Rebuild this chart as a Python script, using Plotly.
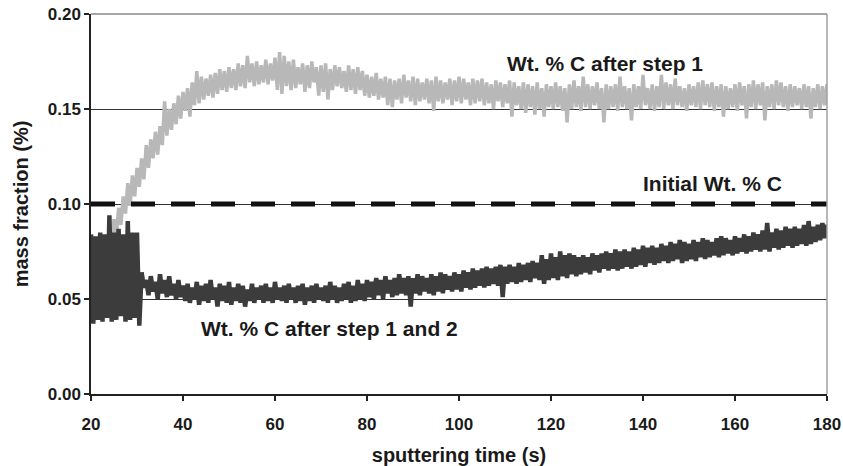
import numpy as np
import plotly.graph_objects as go

# sputtering time, one sample pair (high / low) per second
t_start = 20
t_end = 180

initial_c = 0.10

# Wt. % C after step 1 -- upper / lower edge of the noisy band, t = 20..180
step1_hi = [
    0.074, 0.077, 0.079, 0.081, 0.086, 0.092, 0.098, 0.104, 0.111, 0.115,
    0.119, 0.124, 0.131, 0.134, 0.138, 0.141, 0.154, 0.150, 0.153, 0.157,
    0.159, 0.161, 0.164, 0.170, 0.167, 0.166, 0.168, 0.169, 0.171, 0.170,
    0.172, 0.171, 0.174, 0.173, 0.178, 0.174, 0.175, 0.173, 0.176, 0.174,
    0.177, 0.180, 0.178, 0.175, 0.176, 0.172, 0.174, 0.173, 0.175, 0.172,
    0.173, 0.174, 0.171, 0.173, 0.172, 0.170, 0.173, 0.171, 0.172, 0.170,
    0.168, 0.167, 0.169, 0.166, 0.167, 0.166, 0.165, 0.166, 0.168, 0.165,
    0.167, 0.166, 0.164, 0.166, 0.165, 0.167, 0.165, 0.164, 0.166, 0.165,
    0.167, 0.166, 0.164, 0.166, 0.165, 0.166, 0.164, 0.163, 0.165, 0.164,
    0.163, 0.165, 0.164, 0.162, 0.164, 0.163, 0.162, 0.164, 0.161, 0.163,
    0.162, 0.164, 0.162, 0.161, 0.163, 0.165, 0.162, 0.167, 0.163, 0.162,
    0.164, 0.161, 0.163, 0.162, 0.163, 0.167, 0.162, 0.161, 0.163, 0.162,
    0.168, 0.161, 0.163, 0.162, 0.168, 0.164, 0.163, 0.166, 0.162, 0.161,
    0.163, 0.162, 0.164, 0.165, 0.163, 0.164, 0.162, 0.163, 0.162, 0.161,
    0.163, 0.164, 0.162, 0.163, 0.165, 0.163, 0.164, 0.162, 0.163, 0.165,
    0.164, 0.162, 0.163, 0.162, 0.161, 0.163, 0.162, 0.161, 0.163, 0.162,
    0.163,
]
step1_lo = [
    0.066, 0.069, 0.071, 0.074, 0.078, 0.083, 0.089, 0.095, 0.099, 0.104,
    0.109, 0.113, 0.119, 0.124, 0.126, 0.131, 0.136, 0.139, 0.142, 0.145,
    0.149, 0.146, 0.152, 0.153, 0.155, 0.157, 0.156, 0.158, 0.160, 0.159,
    0.161, 0.160, 0.162, 0.161, 0.164, 0.162, 0.163, 0.164, 0.163, 0.165,
    0.160, 0.158, 0.162, 0.160, 0.161, 0.163, 0.159, 0.161, 0.164, 0.157,
    0.159, 0.155, 0.160, 0.162, 0.161, 0.159, 0.160, 0.158, 0.160, 0.157,
    0.156, 0.157, 0.155, 0.156, 0.152, 0.151, 0.155, 0.153, 0.156, 0.154,
    0.152, 0.154, 0.155, 0.153, 0.149, 0.154, 0.153, 0.155, 0.152, 0.154,
    0.153, 0.155, 0.152, 0.153, 0.154, 0.152, 0.153, 0.150, 0.154, 0.151,
    0.153, 0.146, 0.152, 0.150, 0.148, 0.151, 0.147, 0.150, 0.146, 0.151,
    0.150, 0.151, 0.149, 0.143, 0.150, 0.151, 0.149, 0.151, 0.150, 0.152,
    0.150, 0.143, 0.150, 0.151, 0.149, 0.151, 0.150, 0.144, 0.151, 0.150,
    0.152, 0.150, 0.149, 0.151, 0.150, 0.152, 0.150, 0.152, 0.151, 0.149,
    0.152, 0.151, 0.150, 0.152, 0.151, 0.149, 0.151, 0.146, 0.150, 0.151,
    0.149, 0.152, 0.145, 0.151, 0.150, 0.152, 0.144, 0.151, 0.150, 0.152,
    0.151, 0.149, 0.151, 0.152, 0.150, 0.151, 0.145, 0.151, 0.150, 0.152,
    0.151,
]

# Wt. % C after step 1 and 2
step12_hi = [
    0.084, 0.083, 0.085, 0.084, 0.094, 0.085, 0.087, 0.084, 0.091, 0.085,
    0.085, 0.064, 0.060, 0.062, 0.059, 0.063, 0.060, 0.062, 0.058, 0.060,
    0.057, 0.058, 0.056, 0.059, 0.057, 0.058, 0.060, 0.056, 0.058, 0.057,
    0.059, 0.056, 0.058, 0.057, 0.055, 0.058, 0.056, 0.057, 0.058, 0.056,
    0.059, 0.056, 0.057, 0.058, 0.056, 0.057, 0.058, 0.056, 0.057, 0.058,
    0.056, 0.057, 0.059, 0.057, 0.056, 0.058, 0.059, 0.057, 0.060, 0.058,
    0.060, 0.059, 0.061, 0.060, 0.062, 0.060, 0.061, 0.063, 0.061, 0.062,
    0.061, 0.063, 0.062, 0.061, 0.063, 0.062, 0.064, 0.063, 0.062, 0.064,
    0.063, 0.065, 0.064, 0.066, 0.065, 0.066, 0.067, 0.066, 0.067, 0.068,
    0.067, 0.068, 0.067, 0.069, 0.068, 0.069, 0.070, 0.069, 0.073, 0.071,
    0.074, 0.072, 0.075, 0.073, 0.074, 0.073, 0.072, 0.073, 0.072, 0.074,
    0.073, 0.074, 0.075, 0.074, 0.076, 0.075, 0.076, 0.075, 0.077, 0.076,
    0.078, 0.077, 0.078, 0.077, 0.079, 0.078, 0.080, 0.079, 0.081, 0.080,
    0.079, 0.081, 0.080, 0.082, 0.081, 0.080, 0.082, 0.083, 0.082, 0.081,
    0.083, 0.082, 0.084, 0.083, 0.085, 0.084, 0.086, 0.090, 0.085, 0.087,
    0.086, 0.088, 0.087, 0.088, 0.087, 0.089, 0.091, 0.088, 0.089, 0.090,
    0.089,
]
step12_lo = [
    0.037, 0.039, 0.038, 0.040, 0.038, 0.039, 0.041, 0.038, 0.039, 0.040,
    0.036, 0.056, 0.052, 0.054, 0.050, 0.053, 0.051, 0.052, 0.050, 0.051,
    0.049, 0.048, 0.050, 0.047, 0.049, 0.048, 0.050, 0.046, 0.049, 0.048,
    0.047, 0.049, 0.048, 0.046, 0.049, 0.048, 0.050, 0.048, 0.049, 0.048,
    0.050, 0.049, 0.048, 0.050, 0.048, 0.049, 0.047, 0.049, 0.048, 0.050,
    0.049, 0.048, 0.050, 0.048, 0.049, 0.050, 0.048, 0.049, 0.050, 0.049,
    0.051, 0.050, 0.052, 0.050, 0.053, 0.051, 0.052, 0.053, 0.052, 0.046,
    0.053, 0.052, 0.054, 0.053, 0.052, 0.054, 0.053, 0.055, 0.054, 0.055,
    0.054, 0.056, 0.055, 0.056, 0.057, 0.056, 0.057, 0.058, 0.057, 0.051,
    0.058, 0.059, 0.058, 0.059, 0.060, 0.059, 0.061, 0.060, 0.058, 0.060,
    0.061, 0.060, 0.062, 0.061, 0.063, 0.062, 0.063, 0.064, 0.063, 0.065,
    0.064, 0.066, 0.065, 0.066, 0.065, 0.066, 0.067, 0.066, 0.067, 0.068,
    0.067, 0.069, 0.068, 0.069, 0.070, 0.069, 0.070, 0.071, 0.069, 0.070,
    0.071, 0.070, 0.072, 0.071, 0.072, 0.073, 0.072, 0.073, 0.074, 0.073,
    0.074, 0.075, 0.074, 0.075, 0.076, 0.075, 0.076, 0.075, 0.077, 0.076,
    0.077, 0.078, 0.077, 0.078, 0.079, 0.078, 0.079, 0.080, 0.081, 0.082,
    0.082,
]

x_ticks = [20, 40, 60, 80, 100, 120, 140, 160, 180]
y_ticks = [0.00, 0.05, 0.10, 0.15, 0.20]


def zigzag(hi, lo):
    # each second: high value, then low value half a second later
    t = np.arange(t_start, t_end + 1)
    xs = np.column_stack([t, t + 0.5]).ravel()
    ys = np.column_stack([hi, lo]).ravel()
    return xs, ys


font = dict(family="Liberation Sans, Arial, sans-serif", color="#1a1a1a", weight="bold")

fig = go.Figure()

x1, y1 = zigzag(step1_hi, step1_lo)
fig.add_trace(go.Scatter(x=x1, y=y1, mode="lines",
                         line=dict(color="#b8b8b8", width=3.5)))

x2, y2 = zigzag(step12_hi, step12_lo)
fig.add_trace(go.Scatter(x=x2, y=y2, mode="lines",
                         line=dict(color="#3c3c3c", width=4.5)))

fig.add_trace(go.Scatter(x=[t_start, t_end], y=[initial_c, initial_c], mode="lines",
                         line=dict(color="#111111", width=5, dash="24px,16px")))

ann_font = dict(font, size=21)
fig.add_annotation(x=131.8, y=0.1737, text="Wt. % C after step 1", showarrow=False,
                   font=ann_font)
fig.add_annotation(x=155.1, y=0.1107, text="Initial Wt. % C", showarrow=False,
                   font=ann_font)
fig.add_annotation(x=71.9, y=0.0346, text="Wt. % C after step 1 and 2", showarrow=False,
                   font=ann_font)

# grey top and right frame
fig.add_shape(type="line", xref="paper", yref="paper", x0=0, x1=1, y0=1, y1=1,
              line=dict(color="#8a8a8a", width=1.5))
fig.add_shape(type="line", xref="paper", yref="paper", x0=1, x1=1, y0=0, y1=1,
              line=dict(color="#a0a0a0", width=1.5))

fig.update_layout(
    width=843, height=466,
    margin=dict(l=91, r=16, t=14, b=72),
    plot_bgcolor="white", paper_bgcolor="white",
    showlegend=False,
    font=font,
    xaxis=dict(
        range=[t_start, t_end], tickvals=x_ticks, automargin=False,
        ticks="outside", ticklen=5, tickcolor="#222", tickwidth=1.5,
        ticklabelstandoff=9,
        showline=True, linecolor="#222", linewidth=1.5,
        showgrid=False, zeroline=False,
        tickfont=dict(font, size=17),
        title=dict(text="sputtering time (s)", font=dict(font, size=20), standoff=17),
    ),
    yaxis=dict(
        range=[0, 0.20], tickvals=y_ticks, tickformat=".2f", automargin=False,
        ticks="outside", ticklen=5, tickcolor="#222", tickwidth=1.5,
        showline=True, linecolor="#222", linewidth=1.5,
        showgrid=True, gridcolor="#333", gridwidth=1, zeroline=False,
        tickfont=dict(font, size=17),
        title=dict(text="mass fraction (%)", font=dict(font, size=20), standoff=14),
    ),
)

fig.write_html("out.html", config={"displayModeBar": False},
               post_script="document.body.style.margin='0';")
